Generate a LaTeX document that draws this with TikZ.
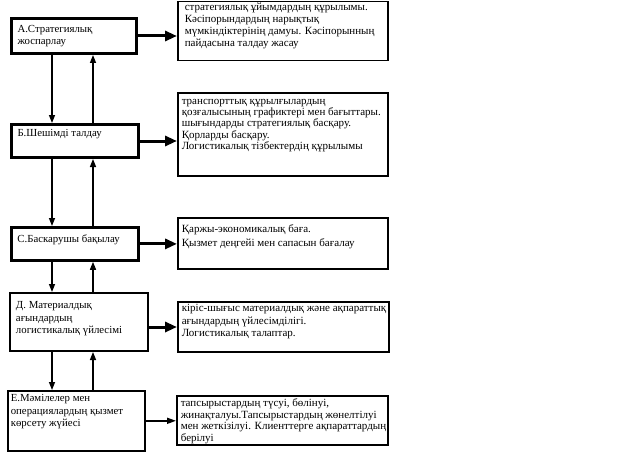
\documentclass[tikz,border=0pt]{standalone}
\usepackage{fontspec}
\setmainfont{Liberation Serif}
\usetikzlibrary{arrows.meta}

\newcommand{\boxtext}[3]{\parbox[t][#2][t]{#1}{\begin{tabular}[t]{@{}l@{}}#3\end{tabular}}}

\begin{document}
\begin{tikzpicture}[
    x=1pt, y=-1pt,
    stage/.style={rectangle, draw, anchor=north west, inner xsep=6pt, font=\fontsize{10.8}{12.5}\selectfont},
    note/.style={rectangle, draw, line width=1.6pt, anchor=north west, inner xsep=4pt, font=\fontsize{11}{11.5}\selectfont},
    feed/.style={-{Triangle[length=12pt,width=10pt]}, line width=3pt},
    link/.style={-{Triangle[length=8pt,width=6pt]}, line width=1.4pt}
]
    \useasboundingbox (0,0) rectangle (642,452);

    \node[stage, line width=3pt, inner ysep=5pt] (plan) at (10,17) {\boxtext{113pt}{25pt}{А.Стратегиялық\\жоспарлау}};
    \node[stage, line width=3pt, inner ysep=3.5pt] (analysis) at (10,123) {\boxtext{115pt}{26pt}{Б.Шешімді талдау}};
    \node[stage, line width=2.8pt, inner ysep=6pt] (control) at (10,226) {\boxtext{115pt}{21pt}{С.Баскарушы бақылау}};
    \node[stage, line width=2pt, inner ysep=7pt] (flows) at (9,292) {\boxtext{126pt}{44pt}{Д. Материалдық\\ағындардың\\логистикалық үйлесімі}};
    \node[stage, line width=1.6pt, inner xsep=3pt, inner ysep=2pt] (service) at (7,390) {\boxtext{131pt}{56pt}{Е.Мәмілелер мен\\операциялардың қызмет\\көрсету жүйесі}};

    \node[note, inner xsep=7pt, inner ysep=1pt, font=\fontsize{11}{12}\selectfont] (plannote) at (177,0.8) {\boxtext{196pt}{57pt}{стратегиялық ұйымдардың құрылымы.\\Кәсіпорындардың нарықтық\\мүмкіндіктерінің дамуы. Кәсіпорынның\\пайдасына талдау жасау}};
    \node[note, inner ysep=4pt, font=\fontsize{11}{11}\selectfont] (analysisnote) at (177,92) {\boxtext{202pt}{75pt}{транспорттық құрылғылардың\\қозғалысының графиктері мен бағыттары.\\шығындарды стратегиялық басқару.\\Қорларды басқару.\\Логистикалық тізбектердің құрылымы}};
    \node[note, inner ysep=5pt, font=\fontsize{11}{14}\selectfont] (controlnote) at (177,217) {\boxtext{202pt}{41pt}{Қаржы-экономикалық баға.\\Қызмет деңгейі мен сапасын бағалау}};
    \node[note, inner ysep=1.25pt, font=\fontsize{11}{12.5}\selectfont] (flowsnote) at (177,301) {\boxtext{203pt}{47.5pt}{кіріс-шығыс материалдық және ақпараттық\\ағындардың үйлесімділігі.\\Логистикалық талаптар.}};
    \node[note, inner ysep=3pt] (servicenote) at (176,395) {\boxtext{203pt}{43pt}{тапсырыстардың түсуі, бөлінуі,\\жинақталуы.Тапсырыстардың жөнелтілуі\\мен жеткізілуі. Клиенттерге ақпараттардың\\берілуі}};

    \coordinate (dn) at (52,0);
    \coordinate (up) at (93,0);

    % horizontal arrows
    \draw[feed] (plan.east) -- (plan.east -| plannote.west);
    \draw[feed] (analysis.east) -- (analysis.east -| analysisnote.west);
    \draw[feed] (control.east) -- (control.east -| controlnote.west);
    \draw[feed] ([yshift=-5pt]flows.east) -- ([yshift=-5pt]flows.east -| flowsnote.west);
    \draw[-{Triangle[length=9pt,width=6pt]}, line width=1.6pt] (service.east) -- (service.east -| servicenote.west);

    % down and up arrows
    \draw[link] (plan.south -| dn) -- (analysis.north -| dn);
    \draw[link] (analysis.north -| up) -- (plan.south -| up);
    \draw[link] (analysis.south -| dn) -- (control.north -| dn);
    \draw[link] (control.north -| up) -- (analysis.south -| up);
    \draw[link] (control.south -| dn) -- (flows.north -| dn);
    \draw[link] (flows.north -| up) -- (control.south -| up);
    \draw[link] (flows.south -| dn) -- (service.north -| dn);
    \draw[link] (service.north -| up) -- (flows.south -| up);
\end{tikzpicture}
\end{document}
